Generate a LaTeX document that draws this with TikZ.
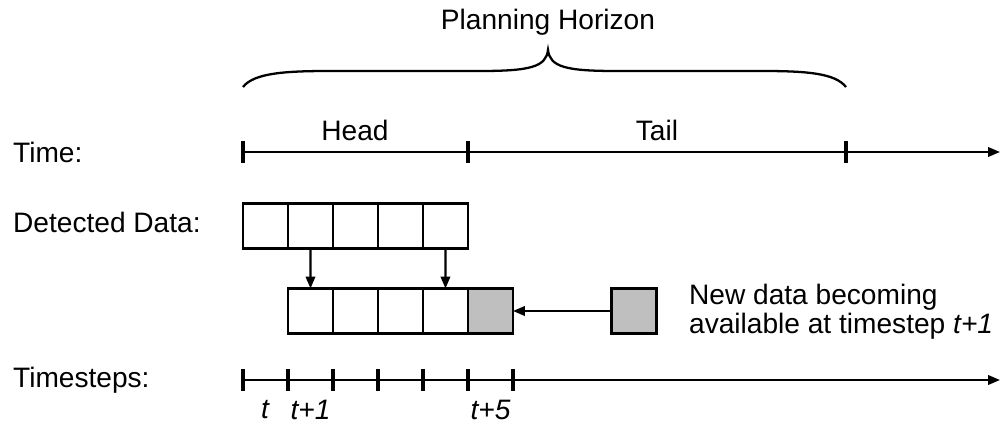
\documentclass[tikz,border=0pt]{standalone}
\usepackage{fontspec}
\setmainfont{Liberation Sans}
\usepackage{tikz}
\usetikzlibrary{positioning, arrows.meta}
\definecolor{newgrey}{RGB}{191,191,191}
\tikzset{>={Triangle[length=2.4mm,width=1.9mm]}}

\begin{document}
\begin{tikzpicture}
    [x=0.02cm, y=-0.02cm, line width=1.3pt,
     every node/.style={font=\fontsize{16}{16.5}\selectfont, inner sep=0pt},
     box/.style={draw, minimum size=0.9cm, outer sep=0pt},
     greybox/.style={box, fill=newgrey},
     lbl/.style={anchor=west},
     tick/.style={line width=2.5pt}]
    \useasboundingbox (0,0) rectangle (1002,425);

    % row labels
    \node [lbl] (timelbl) at (12,152) {Time:};
    \node [lbl] (datalbl) at (12,222) {Detected Data:};
    \node [lbl] (steplbl) at (12,380) {Timesteps:};

    % time axis
    \coordinate (a0) at (243,152);
    \coordinate (a1) at (468,152);
    \coordinate (a2) at (846,152);
    \coordinate (aend) at (1000,152);
    \draw [->] (a0) -- (aend);
    \foreach \x in {243, 468, 846}
        \draw [tick] (\x,141) -- (\x,163);
    \node (head) at (355,130) {Head};
    \node (tail) at (657,130) {Tail};

    % brace
    \coordinate (bl) at (243,87);
    \coordinate (bm) at (548,50);
    \coordinate (br) at (846,87);
    \draw (bl) .. controls (254,73) and (285,71) .. (330,71) -- (480,71)
        .. controls (530,71) and (546,67) .. (bm)
        .. controls (550,67) and (566,71) .. (616,71) -- (761,71)
        .. controls (806,71) and (835,73) .. (br);
    \node (horizon) at (548,22) {Planning Horizon};

    % detected data
    \node [box] (d1) at (265.5,226) {};
    \foreach \i [count=\j from 1] in {2,...,5}
        \node [box, right=0pt of d\j] (d\i) {};

    \node [box] (n1) at (310.5,311) {};
    \foreach \i [count=\j from 1] in {2,...,4}
        \node [box, right=0pt of n\j] (n\i) {};
    \node [greybox, right=0pt of n4] (g) {};

    \draw [->] (d2) -- (n1);
    \draw [->] (d5) -- (n4);

    \node [greybox] (new) at (634,311) {};
    \draw [->] (new) -- (g);
    \node [lbl, align=left] (newlbl) at (688,312)
        {New data becoming\\available at timestep \textit{t+1}};

    % timesteps axis
    \coordinate (s0) at (243,380);
    \coordinate (send) at (1000,380);
    \draw [->] (s0) -- (send);
    \foreach \x in {243, 288, ..., 513}
        \draw [tick] (\x,369) -- (\x,391);
    \node (t0) at (265.5,410) {\textit{t}};
    \node (t1) at (310.5,410) {\textit{t+1}};
    \node (t5) at (490.5,410) {\textit{t+5}};
\end{tikzpicture}
\end{document}
